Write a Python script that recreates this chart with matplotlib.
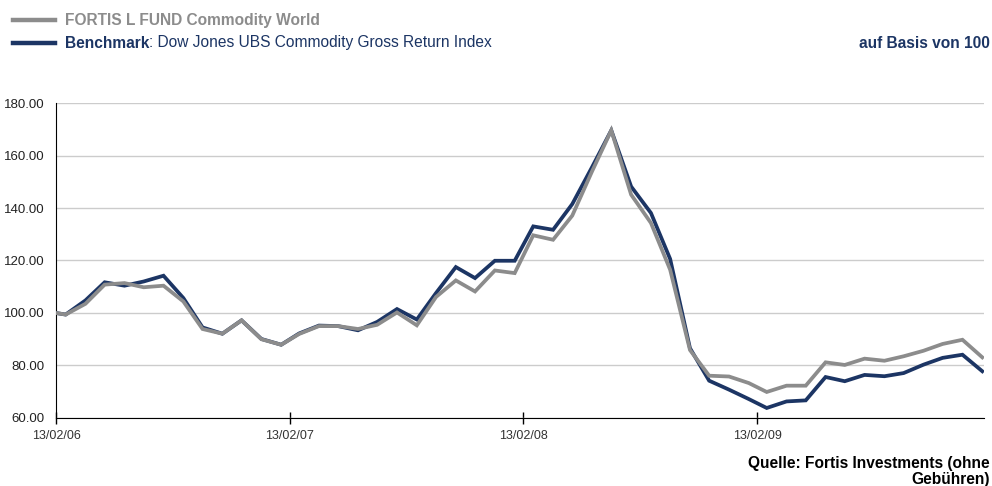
import numpy as np
import pandas as pd
import matplotlib
matplotlib.use("Agg")
import matplotlib.pyplot as plt
import matplotlib.dates as mdates

plt.rcParams['font.family'] = ['Liberation Sans', 'DejaVu Sans']

# dates: start date, then month ends up to Jan 2010
dates = pd.to_datetime(["2006-02-13"]).append(
    pd.date_range("2006-02-28", "2010-01-31", freq="ME"))

fund = [100, 99.4, 103.5, 110.8, 111.4, 109.8, 110.4, 104.4, 93.9, 92.1,
        97.2, 90.0, 87.9, 92.0, 95.0, 95.0, 93.9, 95.5, 100.2, 95.3,
        106.1, 112.4, 108.2, 116.2, 115.2, 129.6, 127.9, 137.1, 154.0, 169.6,
        145.1, 134.3, 116.5, 85.9, 76.1, 75.8, 73.3, 69.9, 72.3, 72.3,
        81.2, 80.2, 82.6, 81.8, 83.5, 85.6, 88.2, 89.8, 83.1]
bench = [100, 99.4, 104.8, 111.7, 110.4, 112.0, 114.2, 105.7, 94.5, 92.1,
         97.2, 90.1, 87.9, 92.2, 95.2, 95.0, 93.4, 96.6, 101.5, 97.5,
         107.6, 117.5, 113.3, 119.9, 119.9, 133.0, 131.7, 141.5, 155.6, 169.6,
         148.2, 138.1, 120.6, 86.6, 74.2, 70.8, 67.2, 63.8, 66.3, 66.7,
         75.6, 74.0, 76.4, 75.9, 77.1, 80.3, 82.9, 84.1, 77.8]

tick_dates = pd.to_datetime(["2006-02-13", "2007-02-13", "2008-02-13", "2009-02-13"])
tick_labels = ["13/02/06", "13/02/07", "13/02/08", "13/02/09"]

navy = "#1c3564"
grey = "#8c8c8c"

fig = plt.figure(figsize=(9.92, 4.86), dpi=100)
ax = fig.add_axes([0.0565, 0.140, 0.935, 0.648])

ax.plot(dates, bench, color=navy, lw=2.7, solid_joinstyle='miter', zorder=3)
ax.plot(dates, fund, color=grey, lw=2.7, solid_joinstyle='miter', zorder=4)

ax.set_ylim(60, 180)
ax.set_yticks(np.arange(60, 181, 20))
ax.set_yticklabels(["%.2f" % v for v in np.arange(60, 181, 20)])
ax.set_xlim(dates[0], dates[-1] + pd.Timedelta(days=2))
ax.set_xticks(tick_dates)
ax.set_xticklabels(tick_labels)

ax.grid(axis='y', color='#cccccc', lw=1)
ax.set_axisbelow(True)
for s in ['top', 'right']:
    ax.spines[s].set_visible(False)
ax.spines['left'].set_color('black')
ax.spines['bottom'].set_color('black')
ax.tick_params(axis='y', length=0, pad=8, labelsize=9.5, labelcolor='#222222')
ax.tick_params(axis='x', direction='inout', length=9, width=1, pad=4,
               labelsize=9, labelcolor='#333333')

# legend / header
fs = 11.2
fig.add_artist(plt.Line2D([13/992, 55/992], [1 - 20/486] * 2, color=grey, lw=3.2))
fig.add_artist(plt.Line2D([13/992, 55/992], [1 - 43/486] * 2, color=navy, lw=3.2))
fig.text(65/992, 1 - 20/486, "FORTIS L FUND Commodity World", color=grey,
         fontsize=fs, fontweight='bold', va='center')
t = fig.text(65/992, 1 - 43/486, "Benchmark", color=navy,
             fontsize=fs, fontweight='bold', va='center')
fig.canvas.draw()
bb = t.get_window_extent()
fig.text(bb.x1 / 992, 1 - 43/486, ": Dow Jones UBS Commodity Gross Return Index",
         color=navy, fontsize=fs, va='center')
fig.text(990/992, 1 - 43/486, "auf Basis von 100", color=navy,
         fontsize=fs, fontweight='bold', va='center', ha='right')

fig.text(990/992, 1 - 463/486, "Quelle: Fortis Investments (ohne", color='black',
         fontsize=fs, fontweight='bold', va='center', ha='right')
fig.text(990/992, 1 - 479/486, "Gebühren)", color='black',
         fontsize=fs, fontweight='bold', va='center', ha='right')

fig.savefig("out.png", dpi=100)
